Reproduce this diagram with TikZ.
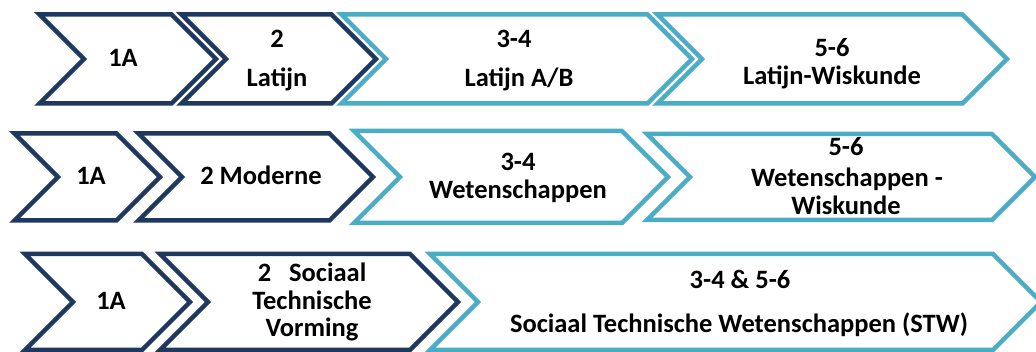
\documentclass[tikz,border=0pt]{standalone}
\usepackage{fontspec}
\setmainfont{Carlito}
\definecolor{navy}{RGB}{31,56,96}
\definecolor{aqua}{RGB}{75,172,198}
\tikzset{
  chev/.style={line width=4.5pt, fill=white, line join=miter},
  lbl/.style={font=\bfseries\fontsize{26.5}{30}\selectfont, anchor=base, inner sep=0pt, text=black}
}
% notch x, tip x, mid y, half height, colour
\newcommand\mychev[5]{%
  \pgfmathsetmacro\cL{#1-#4}\pgfmathsetmacro\cR{#2-#4}%
  \pgfmathsetmacro\cT{#3-#4}\pgfmathsetmacro\cB{#3+#4}%
  \draw[chev,draw=#5] (\cL,\cT) -- (\cR,\cT) -- (#2,#3) -- (\cR,\cB) -- (\cL,\cB) -- (#1,#3) -- cycle;}
\begin{document}
\begin{tikzpicture}[x=1pt,y=-1pt]
\useasboundingbox (0,0) rectangle (1036,352);
% row 1
\mychev{84}{216}{59}{44.5}{navy}
\mychev{226}{376}{59}{44.5}{navy}
\mychev{386}{692}{59}{44.5}{aqua}
\mychev{702}{1007}{59}{44.5}{aqua}
% row 2
\mychev{58}{160}{177}{43.5}{navy}
\mychev{182}{373}{177}{43.5}{navy}
\mychev{400}{668}{177}{46}{aqua}
\mychev{690}{1035}{177}{43}{aqua}
% row 3
\mychev{73}{190}{302}{48}{navy}
\mychev{208}{458}{302}{48}{navy}
\mychev{478}{1041}{302}{48}{aqua}
% labels row 1
\node[lbl] (a1) at (123,67) {1A};
\node[lbl] (a2a) at (277,48) {2};
\node[lbl] (a2b) at (277,87) {Latijn};
\node[lbl] (a3a) at (514,48) {3-4};
\node[lbl] (a3b) at (519,87) {Latijn A/B};
\node[lbl] (a4a) at (832,57) {5-6};
\node[lbl] (a4b) at (832,85) {Latijn-Wiskunde};
% labels row 2
\node[lbl] (b1) at (91,185) {1A};
\node[lbl] (b2) at (261,185) {2 Moderne};
\node[lbl] (b3a) at (518,171) {3-4};
\node[lbl] (b3b) at (518,199) {Wetenschappen};
\node[lbl] (b4a) at (846,156) {5-6};
\node[lbl] (b4b) at (847,187) {Wetenschappen -};
\node[lbl] (b4c) at (846,215) {Wiskunde};
% labels row 3
\node[lbl] (c1) at (111,310) {1A};
\node[lbl] (c2a) at (312,282) {2\ \ \ Sociaal};
\node[lbl] (c2b) at (312,310) {Technische};
\node[lbl] (c2c) at (312,337) {Vorming};
\node[lbl] (c3a) at (740,289) {3-4 \& 5-6};
\node[lbl] (c3b) at (739,333) {Sociaal Technische Wetenschappen (STW)};
\end{tikzpicture}
\end{document}
